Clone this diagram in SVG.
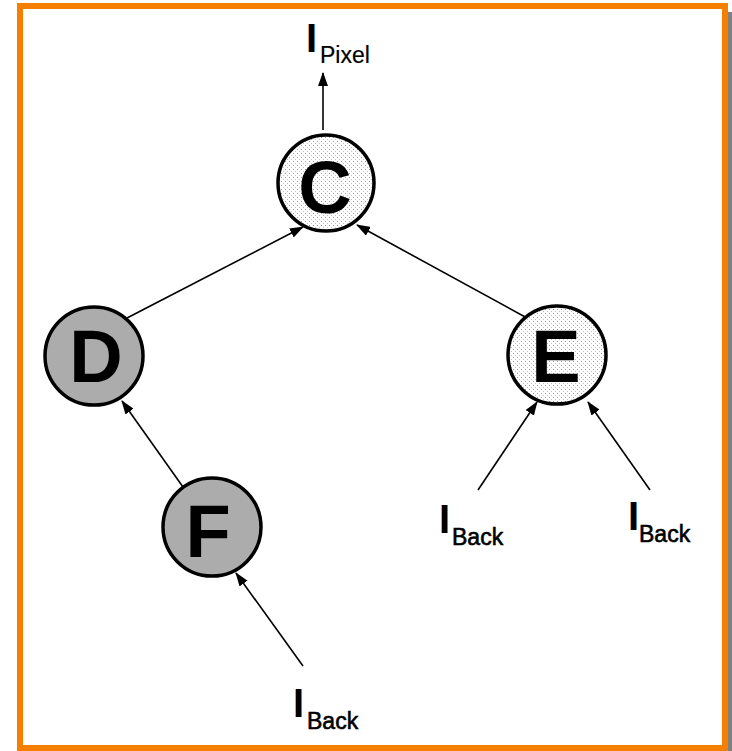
<svg xmlns="http://www.w3.org/2000/svg" width="732" height="751" viewBox="0 0 732 751">
<style>
.node{stroke:#000;stroke-width:3.5}
.dot{fill:url(#dots)}
.grey{fill:#acacac}
.big{font-family:"Liberation Sans",Arial,sans-serif;font-weight:bold;font-size:74px;text-anchor:middle;fill:#000}
.I{font-family:"Liberation Sans",Arial,sans-serif;font-weight:bold;font-size:40px;fill:#000}
.sub{font-family:"Liberation Sans",Arial,sans-serif;font-size:23px;fill:#000;stroke:#000;stroke-width:0.6}
.edge{stroke:#000;stroke-width:1.6;fill:none;marker-end:url(#arr)}
</style>
<defs>
<pattern id="dots" width="4" height="4" patternUnits="userSpaceOnUse">
<rect width="4" height="4" fill="#fff"/>
<rect x="1" y="1" width="1" height="1" fill="#9a9a9a"/>
<rect x="3" y="3" width="1" height="1" fill="#c0c0c0"/>
</pattern>
<marker id="arr" markerWidth="14" markerHeight="10" refX="13" refY="5" orient="auto" markerUnits="userSpaceOnUse">
<path d="M0,0 L14,5 L0,10 Z" fill="#000"/>
</marker>
</defs>
<rect x="0" y="0" width="732" height="751" fill="#fff"/>
<rect x="728" y="12" width="4" height="739" fill="#808080"/>
<rect x="20" y="6" width="705" height="742" fill="none" stroke="#f58000" stroke-width="6"/>
<g id="connectors">
<line class="edge" x1="323" y1="130" x2="323" y2="73"/>
<line class="edge" x1="127" y1="318" x2="303" y2="227"/>
<line class="edge" x1="527" y1="318" x2="357" y2="225"/>
<line class="edge" x1="183" y1="487" x2="122" y2="401"/>
<line class="edge" x1="303" y1="666" x2="236" y2="573"/>
<line class="edge" x1="478" y1="490" x2="537" y2="402"/>
<line class="edge" x1="650" y1="490" x2="588" y2="402"/>
</g>
<g id="C"><circle class="node dot" cx="326" cy="183" r="48"/><text class="big" x="325" y="213">C</text></g>
<g id="D"><circle class="node grey" cx="94" cy="356" r="49"/><text class="big" x="96" y="382">D</text></g>
<g id="E"><circle class="node dot" cx="557" cy="355" r="49"/><text class="big" x="556" y="382">E</text></g>
<g id="F"><circle class="node grey" cx="212" cy="527" r="49"/><text class="big" x="208" y="557">F</text></g>
<g id="IPixel"><text class="I" x="306" y="52">I</text><text class="sub" x="320" y="63" style="stroke-width:0.2">Pixel</text></g>
<g id="IBack1"><text class="I" x="439" y="533">I</text><text class="sub" x="452" y="545">Back</text></g>
<g id="IBack2"><text class="I" x="628" y="530">I</text><text class="sub" x="639" y="542">Back</text></g>
<g id="IBack3"><text class="I" x="293" y="717">I</text><text class="sub" x="307" y="729">Back</text></g>
</svg>
